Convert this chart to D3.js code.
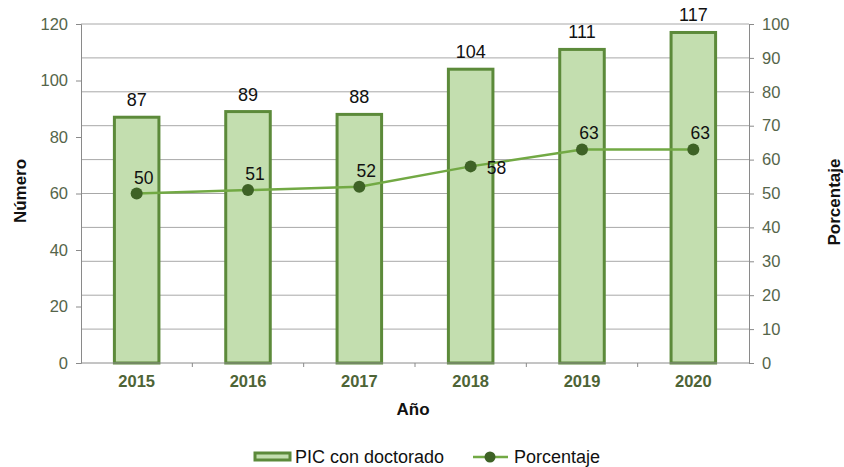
<!DOCTYPE html>
<html>
<head>
<meta charset="utf-8">
<script src="https://cdn.jsdelivr.net/npm/d3@7"></script>
<style>
  body { margin: 0; background: #fff; }
  svg { display: block; font-family: "Liberation Sans", Arial, sans-serif; }
</style>
</head>
<body>
<svg id="chart" width="844" height="467"></svg>
<script>
// Data
const years = ["2015", "2016", "2017", "2018", "2019", "2020"];
const picDoctorado = [87, 89, 88, 104, 111, 117];
const porcentaje = [50, 51, 52, 58, 63, 63];
const leftTicks = [0, 20, 40, 60, 80, 100, 120];
const rightTicks = [0, 10, 20, 30, 40, 50, 60, 70, 80, 90, 100];

const svg = d3.select("#chart");
const m = { left: 81, right: 749, top: 24, bottom: 363 };

const x = d3.scaleBand().domain(years).range([m.left, m.right]).paddingInner(0.6).paddingOuter(0.3);
const band = d3.scaleBand().domain(years).range([m.left, m.right]);
const yL = d3.scaleLinear().domain([0, 120]).range([m.bottom, m.top]);
const yR = d3.scaleLinear().domain([0, 100]).range([m.bottom, m.top]);

const tickColor = "#55654a";
const gridColor = "#a8a8a8";

// Horizontal gridlines follow the percentage axis
svg.append("g").selectAll("line").data(rightTicks.filter(d => d > 0)).join("line")
  .attr("x1", m.left).attr("x2", m.right)
  .attr("y1", d => yR(d)).attr("y2", d => yR(d))
  .attr("stroke", gridColor).attr("stroke-width", 1);

// Left axis
const gL = svg.append("g").attr("transform", `translate(${m.left},0)`)
  .call(d3.axisLeft(yL).tickValues(leftTicks).tickSize(5).tickPadding(8));
// Right axis
const gR = svg.append("g").attr("transform", `translate(${m.right},0)`)
  .call(d3.axisRight(yR).tickValues(rightTicks).tickSize(5).tickPadding(8));
// Bottom axis
const gB = svg.append("g").attr("transform", `translate(0,${m.bottom})`)
  .call(d3.axisBottom(band).tickSize(0).tickPadding(12));

[gL, gR, gB].forEach(g => {
  g.select(".domain").attr("stroke", "#8a8a8a");
  g.selectAll(".tick line").attr("stroke", "#8a8a8a");
  g.selectAll(".tick text").attr("fill", tickColor).attr("font-size", 16.5)
    .attr("font-family", "Liberation Sans, Arial, sans-serif");
});
gB.select(".domain").remove();
gB.selectAll(".tick text").attr("font-weight", "bold").attr("fill", "#4e6436").attr("font-size", 16.5);

// Small ticks between categories on the x axis
svg.append("g").selectAll("line").data(years.slice(1)).join("line")
  .attr("x1", d => band(d)).attr("x2", d => band(d))
  .attr("y1", m.bottom).attr("y2", m.bottom + 4)
  .attr("stroke", "#8a8a8a");

// Bars
svg.append("g").selectAll("rect").data(picDoctorado).join("rect")
  .attr("x", (d, i) => x(years[i]))
  .attr("y", d => yL(d))
  .attr("width", x.bandwidth())
  .attr("height", d => yL(0) - yL(d))
  .attr("fill", "#c3deaf")
  .attr("stroke", "#5c8a3a")
  .attr("stroke-width", 3);

// x baseline drawn over bar bottoms
svg.append("line").attr("x1", m.left).attr("x2", m.right)
  .attr("y1", m.bottom).attr("y2", m.bottom).attr("stroke", "#8a8a8a");

// Bar value labels
svg.append("g").selectAll("text").data(picDoctorado).join("text")
  .attr("x", (d, i) => band(years[i]) + band.bandwidth() / 2)
  .attr("y", d => yL(d) - 11)
  .attr("text-anchor", "middle")
  .attr("font-size", 18)
  .attr("fill", "#111")
  .text(d => d);

// Percentage line
const cx = i => band(years[i]) + band.bandwidth() / 2;
const line = d3.line().x((d, i) => cx(i)).y(d => yR(d));
svg.append("path").datum(porcentaje)
  .attr("d", line).attr("fill", "none")
  .attr("stroke", "#72a944").attr("stroke-width", 2.5);

svg.append("g").selectAll("circle").data(porcentaje).join("circle")
  .attr("cx", (d, i) => cx(i)).attr("cy", d => yR(d)).attr("r", 6)
  .attr("fill", "#3e6226");

// Percentage labels: above the marker, except where the line rises steeply
svg.append("g").selectAll("text").data(porcentaje).join("text")
  .attr("x", (d, i) => i === 3 ? cx(i) + 16 : cx(i) + 7)
  .attr("y", (d, i) => i === 3 ? yR(d) + 8 : yR(d) - 10)
  .attr("text-anchor", (d, i) => i === 3 ? "start" : "middle")
  .attr("font-size", 17.5)
  .attr("fill", "#111")
  .text(d => d);

// Axis titles
svg.append("text").attr("transform", "translate(26,191) rotate(-90)")
  .attr("text-anchor", "middle").attr("font-weight", "bold").attr("font-size", 17)
  .attr("fill", "#111").text("Número");
svg.append("text").attr("transform", "translate(840,202) rotate(-90)")
  .attr("text-anchor", "middle").attr("font-weight", "bold").attr("font-size", 17)
  .attr("fill", "#111").text("Porcentaje");
svg.append("text").attr("x", 413).attr("y", 415)
  .attr("text-anchor", "middle").attr("font-weight", "bold").attr("font-size", 17)
  .attr("fill", "#111").text("Año");

// Legend
const lg = svg.append("g");
lg.append("rect").attr("x", 255).attr("y", 453).attr("width", 35).attr("height", 7)
  .attr("fill", "#c3deaf").attr("stroke", "#5c8a3a").attr("stroke-width", 3);
lg.append("text").attr("x", 295).attr("y", 463).attr("font-size", 18).attr("fill", "#111")
  .text("PIC con doctorado");
lg.append("line").attr("x1", 473).attr("x2", 508).attr("y1", 457).attr("y2", 457)
  .attr("stroke", "#72a944").attr("stroke-width", 2.5);
lg.append("circle").attr("cx", 490).attr("cy", 457).attr("r", 5.5).attr("fill", "#3e6226");
lg.append("text").attr("x", 514).attr("y", 463).attr("font-size", 18).attr("fill", "#111")
  .text("Porcentaje");
</script>
</body>
</html>
